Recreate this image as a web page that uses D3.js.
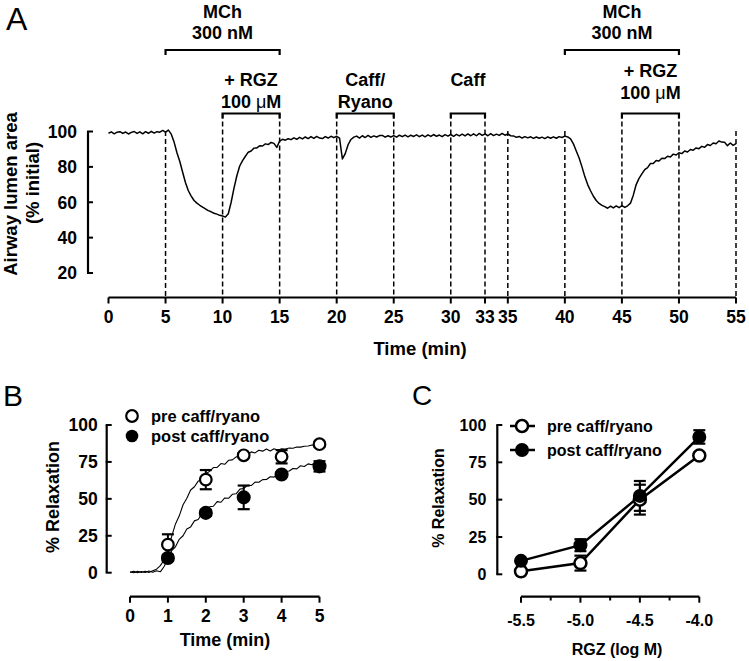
<!DOCTYPE html>
<html>
<head>
<meta charset="utf-8">
<script src="https://cdn.jsdelivr.net/npm/d3@7/dist/d3.min.js"></script>
<style>
  html, body { margin: 0; padding: 0; background: #fff; }
  svg { display: block; }
  text { font-family: "Liberation Sans", Arial, sans-serif; font-weight: bold; fill: #000; }
</style>
</head>
<body>
<svg id="chart" width="749" height="661"></svg>
<script>
// ---------------- DATA ----------------
// Panel A: airway lumen area trace, sampled every 0.25 min from 0 to 55 min
const traceStep = 0.25;
const traceValues = [
  99.0, 99.8, 98.7, 99.6,   99.9, 98.9, 99.7, 98.6,   99.5, 100.0, 98.9, 99.8,
  98.7, 99.9, 99.0, 100.1,  99.1, 99.9, 99.6, 100.6,  99.6, 100.8, 98.5, 94.0,
  88.0, 83.0, 77.0, 71.0,   66.5, 63.5, 61.0, 59.5,   58.3, 57.2, 56.2, 55.3,
  54.6, 53.8, 53.3, 52.6,   52.2, 51.6, 53.5, 60.0,   68.0, 75.0, 80.5, 83.5,
  86.0, 88.3, 89.0, 90.6,   90.7, 91.9, 91.8, 93.0,   92.6, 93.8, 93.3, 91.0,
  94.6, 95.6, 95.1, 95.9,   95.4, 96.4, 95.6, 96.7,   95.8, 96.9, 96.0, 97.1,
  96.1, 97.2, 96.3, 96.0,   97.1, 96.3, 97.3, 96.5,   97.3, 96.2, 84.5, 87.5,
  92.5, 95.5, 96.8, 97.4,   96.3, 97.6, 96.6, 97.8,   96.7, 97.5, 96.9, 97.7,
  97.8, 96.8, 97.6, 96.9,   97.7, 96.8, 97.9, 97.1,   98.0, 97.0, 97.9, 97.2,
  98.1, 97.1, 98.0, 97.0,   98.1, 97.2, 98.3, 97.3,   98.0, 97.1, 98.2, 97.4,
  98.3, 97.3, 98.4, 97.5,   98.5, 97.5, 98.6, 97.6,   98.7, 97.6, 98.9, 97.8,
  98.6, 97.6, 98.8, 97.7,   98.5, 97.8, 98.9, 97.9,   98.6, 97.6, 97.5, 96.7,
  97.2, 96.3, 97.1, 96.4,   97.0, 96.1, 96.9, 96.2,   96.8, 96.0, 97.0, 96.2,
  97.0, 96.2, 97.1, 96.6,   97.4, 96.9, 95.8, 93.0,   89.0, 85.0, 80.0, 74.5,
  70.0, 66.5, 63.4, 61.0,   59.3, 58.2, 57.5, 56.6,   57.8, 56.8, 57.9, 56.9,
  58.1, 57.1, 58.0, 59.5,   64.0, 70.0, 73.5, 76.0,   78.4, 79.6, 81.9, 81.9,
  83.6, 83.3, 84.9, 84.7,   86.0, 85.6, 87.2, 86.7,   88.0, 87.5, 89.0, 88.4,
  89.8, 89.4, 90.7, 90.3,   91.6, 91.1, 92.6, 92.1,   93.5, 93.1, 94.6, 94.0,
  93.9, 92.0, 93.5, 92.2,   93.2
];
const aYTicks = [20, 40, 60, 80, 100];
const aXTicks = [0, 5, 10, 15, 20, 25, 30, 33, 35, 40, 45, 50, 55];
const aDashFromBracket = [10, 15, 20, 25, 30, 33, 45, 50];
const aDashFromTrace = [5, 35, 40, 55];
const bigBrackets = [
  {s: 5, e: 15, lines: ["MCh", "300 nM"]},
  {s: 40, e: 50, lines: ["MCh", "300 nM"]}
];
const smallBrackets = [
  {s: 10, e: 15, lines: ["+ RGZ", "100 |M"], dy: 0},
  {s: 20, e: 25, lines: ["Caff/", "Ryano"], dy: 0},
  {s: 30, e: 33, lines: ["Caff"], dy: 0},
  {s: 45, e: 50, lines: ["+ RGZ", "100 |M"], dy: -9}
];

// Panel B: relaxation time course
const bTimes = [1, 2, 3, 4, 5];
const bPre = [19, 63, 79.5, 78.5, 87];
const bPreErr = [7, 6.5, 1.5, 4.5, 1.5];
const bPost = [10, 40.5, 51, 66.5, 72];
const bPostErr = [2, 2, 8, 1.5, 3.5];
const bTraceStep = 0.1;
const bPreTrace = [
  0.5, 0.0, 0.9, 0.1, 1.0, 0.2, 1.3, 2.4, 4.8, 8.6,
  15.4, 24.6, 33.0, 38.5, 46.0, 50.4, 56.0, 58.2, 62.0, 63.4,
  67.0, 68.6, 71.2, 71.3, 73.9, 73.4, 76.1, 76.4, 78.4, 78.5,
  80.2, 79.8, 81.8, 81.1, 82.9, 82.3, 83.7, 82.4, 83.9, 82.9,
  83.9, 83.8, 84.4, 84.3, 85.1, 85.0, 85.6, 85.8, 86.4, 86.5, 87.2
];
const bPostTrace = [
  0.3, 0.9, 0.0, 0.8, 0.1, 1.1, 0.3, 1.3, 0.6, 4.2,
  9.2, 14.9, 17.5, 22.6, 25.0, 29.6, 31.0, 35.1, 36.0, 40.1,
  41.5, 44.6, 45.0, 48.1, 47.7, 50.6, 50.4, 53.1, 53.4, 56.6,
  57.0, 59.1, 59.0, 61.3, 61.2, 63.0, 63.1, 65.0, 64.7, 66.9,
  66.7, 68.5, 68.9, 70.6, 70.3, 72.4, 71.9, 73.7, 73.1, 74.8, 74.0
];
const bXTicks = [0, 1, 2, 3, 4, 5];
const relTicks = [0, 25, 50, 75, 100];

// Panel C: concentration response
const cDoses = [-5.5, -5.0, -4.5, -4.0];
const cDoseLabels = ["-5.5", "-5.0", "-4.5", "-4.0"];
const cMinor = [-5.25, -4.75, -4.25];
const cPre = [2, 7.5, 50, 79.5];
const cPreErr = [1, 5, 10, 2];
const cPost = [9, 19.5, 52.5, 92];
const cPostErr = [1, 4, 10, 4.5];

const legendNames = ["pre caff/ryano", "post caff/ryano"];

// ---------------- DRAW ----------------
const svg = d3.select("#chart");
svg.append("rect").attr("width", 749).attr("height", 661).attr("fill", "#fff");

function yAxisLeft(g, scale, ticks, x, fs, gap) {
  g.append("line").attr("x1", x).attr("x2", x)
    .attr("y1", scale(d3.max(ticks))).attr("y2", scale(d3.min(ticks)))
    .attr("stroke", "#000").attr("stroke-width", 2.2);
  ticks.forEach(t => {
    g.append("line").attr("x1", x - 1).attr("x2", x + 5)
      .attr("y1", scale(t)).attr("y2", scale(t))
      .attr("stroke", "#000").attr("stroke-width", 2);
    g.append("text").attr("x", x - gap).attr("y", scale(t)).attr("dy", "0.36em")
      .attr("text-anchor", "end").style("font-size", fs + "px").text(t);
  });
}
function xAxisBottom(g, scale, ticks, labels, y, fs, labelY) {
  g.append("line").attr("x1", scale(d3.min(ticks))).attr("x2", scale(d3.max(ticks)))
    .attr("y1", y).attr("y2", y).attr("stroke", "#000").attr("stroke-width", 2.2);
  ticks.forEach((t, i) => {
    g.append("line").attr("x1", scale(t)).attr("x2", scale(t))
      .attr("y1", y).attr("y2", y + 6).attr("stroke", "#000").attr("stroke-width", 2);
    g.append("text").attr("x", scale(t)).attr("y", labelY).attr("dy", "0.36em")
      .attr("text-anchor", "middle").style("font-size", fs + "px").text(labels[i]);
  });
}
// writes a label; a "|" stands for a Greek mu drawn in a lighter weight
function richText(sel, str) {
  const parts = str.split("|");
  parts.forEach((p, i) => {
    if (i > 0) sel.append("tspan").style("font-weight", "normal").text("\u03BC");
    if (p.length) sel.append("tspan").text(p);
  });
}

// ===== Panel A =====
const gA = svg.append("g");
const xA = d3.scaleLinear().domain([0, 55]).range([108.5, 736]);
const yA = d3.scaleLinear().domain([20, 100]).range([273, 131.5]);

gA.append("text").attr("x", 6).attr("y", 30)
  .style("font-size", "32px").style("font-weight", "normal").text("A");

yAxisLeft(gA, yA, aYTicks, 88, 17.5, 11);
xAxisBottom(gA, xA, aXTicks, aXTicks.map(String), 297.5, 17.5, 316.5);

gA.append("text").attr("transform", "translate(17,194) rotate(-90)")
  .attr("text-anchor", "middle").style("font-size", "18.5px").text("Airway lumen area");
gA.append("text").attr("transform", "translate(38.5,183) rotate(-90)")
  .attr("text-anchor", "middle").style("font-size", "18.5px").text("(% initial)");
gA.append("text").attr("x", 420).attr("y", 348).attr("dy", "0.36em")
  .attr("text-anchor", "middle").style("font-size", "18.5px").text("Time (min)");

const dashTop1 = 113.5, dashTop2 = 131;
aDashFromBracket.forEach(t => {
  gA.append("line").attr("x1", xA(t)).attr("x2", xA(t)).attr("y1", dashTop1).attr("y2", 297.5)
    .attr("stroke", "#000").attr("stroke-width", 1.5).attr("stroke-dasharray", "5,3");
});
aDashFromTrace.forEach(t => {
  gA.append("line").attr("x1", xA(t)).attr("x2", xA(t)).attr("y1", dashTop2).attr("y2", 297.5)
    .attr("stroke", "#000").attr("stroke-width", 1.5).attr("stroke-dasharray", "5,3");
});

function bracket(g, x1, x2, y) {
  g.append("path").attr("d", `M${x1},${y + 5}V${y}H${x2}V${y + 5}`)
    .attr("fill", "none").attr("stroke", "#000").attr("stroke-width", 2.2);
}
bigBrackets.forEach(b => {
  bracket(gA, xA(b.s), xA(b.e), 50);
  const cx = (xA(b.s) + xA(b.e)) / 2;
  gA.append("text").attr("x", cx).attr("y", 11.5).attr("dy", "0.36em").attr("text-anchor", "middle")
    .style("font-size", "18px").text(b.lines[0]);
  gA.append("text").attr("x", cx).attr("y", 33).attr("dy", "0.36em").attr("text-anchor", "middle")
    .style("font-size", "18px").text(b.lines[1]);
});
smallBrackets.forEach(b => {
  bracket(gA, xA(b.s), xA(b.e), 113.5);
  const cx = (xA(b.s) + xA(b.e)) / 2;
  b.lines.forEach((l, i) => {
    const t = gA.append("text").attr("x", cx).attr("y", 80 + b.dy + i * 22).attr("dy", "0.36em")
      .attr("text-anchor", "middle").style("font-size", "18px");
    richText(t, l);
  });
});

const lineA = d3.line().x((d, i) => xA(i * traceStep)).y(d => yA(d));
gA.append("path").datum(traceValues).attr("d", lineA)
  .attr("fill", "none").attr("stroke", "#000").attr("stroke-width", 1.5).attr("stroke-linejoin", "round");

// ===== Panel B =====
const gB = svg.append("g");
const xB = d3.scaleLinear().domain([0, 5]).range([130, 319.5]);
const yB = d3.scaleLinear().domain([0, 100]).range([572.7, 425]);

gB.append("text").attr("x", 3).attr("y", 406).style("font-size", "30px").style("font-weight", "normal").text("B");
yAxisLeft(gB, yB, relTicks, 106.7, 17.5, 9);
xAxisBottom(gB, xB, bXTicks, bXTicks.map(String), 596.7, 17.5, 615.5);
gB.append("text").attr("transform", "translate(53,497) rotate(-90)").attr("text-anchor", "middle")
  .attr("dy", "0.36em").style("font-size", "18px").text("% Relaxation");
gB.append("text").attr("x", 225).attr("y", 640).attr("dy", "0.36em").attr("text-anchor", "middle")
  .style("font-size", "18px").text("Time (min)");

const lineB = d3.line().x((d, i) => xB(i * bTraceStep)).y(d => yB(d));
[bPreTrace, bPostTrace].forEach(tr => {
  gB.append("path").datum(tr).attr("d", lineB).attr("fill", "none")
    .attr("stroke", "#000").attr("stroke-width", 1.1).attr("stroke-linejoin", "round");
});

function errBars(g, xs, ys, es, xsc, ysc, cap) {
  xs.forEach((x, i) => {
    const px = xsc(x), top = ysc(ys[i] + es[i]), bot = ysc(ys[i] - es[i]);
    g.append("line").attr("x1", px).attr("x2", px).attr("y1", top).attr("y2", bot)
      .attr("stroke", "#000").attr("stroke-width", 2);
    [top, bot].forEach(yy => g.append("line").attr("x1", px - cap).attr("x2", px + cap)
      .attr("y1", yy).attr("y2", yy).attr("stroke", "#000").attr("stroke-width", 2.2));
  });
}
errBars(gB, bTimes, bPre, bPreErr, xB, yB, 6);
errBars(gB, bTimes, bPost, bPostErr, xB, yB, 6);
bTimes.forEach((t, i) => {
  gB.append("circle").attr("cx", xB(t)).attr("cy", yB(bPost[i])).attr("r", 6.3)
    .attr("fill", "#000").attr("stroke", "#000").attr("stroke-width", 1.5);
});
bTimes.forEach((t, i) => {
  gB.append("circle").attr("cx", xB(t)).attr("cy", yB(bPre[i])).attr("r", 5.8)
    .attr("fill", "#fff").attr("stroke", "#000").attr("stroke-width", 2.2);
});
gB.append("circle").attr("cx", 132).attr("cy", 416).attr("r", 5.8).attr("fill", "#fff")
  .attr("stroke", "#000").attr("stroke-width", 2.2);
gB.append("circle").attr("cx", 132).attr("cy", 436).attr("r", 6.3).attr("fill", "#000");
gB.append("text").attr("x", 151).attr("y", 416).attr("dy", "0.36em").style("font-size", "16.5px").text(legendNames[0]);
gB.append("text").attr("x", 151).attr("y", 436).attr("dy", "0.36em").style("font-size", "16.5px").text(legendNames[1]);

// ===== Panel C =====
const gC = svg.append("g");
const xC = d3.scaleLinear().domain([-5.5, -4.0]).range([521, 699.3]);
const yC = d3.scaleLinear().domain([0, 100]).range([574.3, 425]);

gC.append("text").attr("x", 412).attr("y", 405).style("font-size", "28px").style("font-weight", "normal").text("C");
yAxisLeft(gC, yC, relTicks, 497.3, 16, 11);
xAxisBottom(gC, xC, cDoses, cDoseLabels, 596.7, 16, 620);
cMinor.forEach(t => {
  gC.append("line").attr("x1", xC(t)).attr("x2", xC(t)).attr("y1", 596.7).attr("y2", 600.5)
    .attr("stroke", "#000").attr("stroke-width", 2);
});
gC.append("text").attr("transform", "translate(438,498) rotate(-90)").attr("text-anchor", "middle")
  .attr("dy", "0.36em").style("font-size", "16px").text("% Relaxation");
gC.append("text").attr("x", 617).attr("y", 649).attr("dy", "0.36em").attr("text-anchor", "middle")
  .style("font-size", "16px").text("RGZ (log M)");

const lineC = d3.line().x(d => xC(d[0])).y(d => yC(d[1]));
[cPre, cPost].forEach(arr => {
  gC.append("path").datum(cDoses.map((d, i) => [d, arr[i]])).attr("d", lineC)
    .attr("fill", "none").attr("stroke", "#000").attr("stroke-width", 2.5);
});
errBars(gC, cDoses, cPre, cPreErr, xC, yC, 6);
errBars(gC, cDoses, cPost, cPostErr, xC, yC, 6);
cDoses.forEach((d, i) => {
  gC.append("circle").attr("cx", xC(d)).attr("cy", yC(cPre[i])).attr("r", 6)
    .attr("fill", "#fff").attr("stroke", "#000").attr("stroke-width", 2.5);
});
cDoses.forEach((d, i) => {
  gC.append("circle").attr("cx", xC(d)).attr("cy", yC(cPost[i])).attr("r", 7)
    .attr("fill", "#000");
});
[[426, false], [450, true]].forEach(([yy, filled], i) => {
  gC.append("line").attr("x1", 510).attr("x2", 535).attr("y1", yy).attr("y2", yy)
    .attr("stroke", "#000").attr("stroke-width", 2.5);
  gC.append("circle").attr("cx", 522).attr("cy", yy).attr("r", filled ? 7 : 6)
    .attr("fill", filled ? "#000" : "#fff").attr("stroke", "#000").attr("stroke-width", filled ? 0 : 2.5);
  gC.append("text").attr("x", 547).attr("y", yy).attr("dy", "0.36em").style("font-size", "16px").text(legendNames[i]);
});
</script>
</body>
</html>
